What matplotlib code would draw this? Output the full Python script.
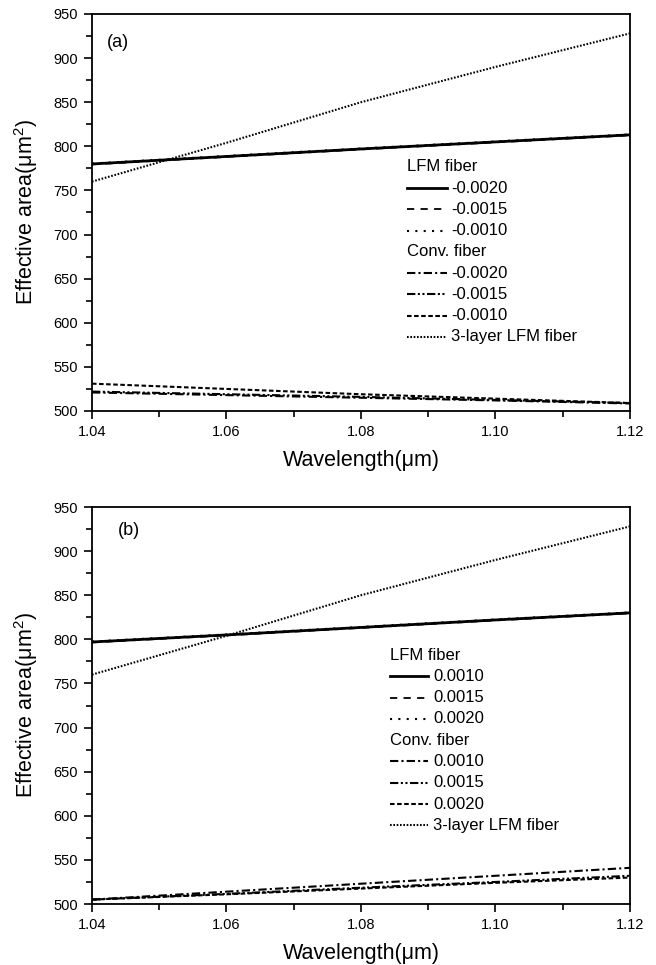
import matplotlib
matplotlib.use("Agg")
import matplotlib.pyplot as plt
from matplotlib.ticker import MultipleLocator

plt.rcParams['font.family'] = ['Liberation Sans', 'DejaVu Sans']
plt.rcParams['mathtext.fontset'] = 'custom'
plt.rcParams['mathtext.rm'] = 'Liberation Sans'

wavelength = [1.04, 1.06, 1.08, 1.10, 1.12]

# panel (a): negative index differences
lfm_a_0020 = [780, 788.5, 797, 805, 813]
lfm_a_0015 = [779.5, 788, 796.5, 804.5, 812.5]
lfm_a_0010 = [780.5, 789, 797.5, 805.5, 813.5]
conv_a_0020 = [521, 518, 515, 512, 508.5]
conv_a_0015 = [522, 519, 516, 512.5, 509]
conv_a_0010 = [531, 525, 519, 514, 509]
three_layer_a = [760, 804, 850, 890, 928]

# panel (b): positive index differences
lfm_b_0010 = [797, 805, 813.5, 822, 830]
lfm_b_0015 = [796.5, 804.5, 813, 821.5, 829.5]
lfm_b_0020 = [797.5, 805.5, 814, 822.5, 830.5]
conv_b_0010 = [505, 514, 523, 532, 541]
conv_b_0015 = [505, 511.5, 518.5, 525, 532]
conv_b_0020 = [505, 511, 517.5, 524, 530]
three_layer_b = [760, 804, 850, 890, 928]

labels_a = ['-0.0020', '-0.0015', '-0.0010']
labels_b = ['0.0010', '0.0015', '0.0020']

styles_lfm = [dict(ls='-', lw=2.0),
              dict(ls=(0, (4, 3.5)), lw=1.3),
              dict(ls=(0, (1, 3)), lw=1.5)]
styles_conv = [dict(ls=(0, (4, 1.5, 1, 1.5)), lw=1.5),
               dict(ls=(0, (4, 1.2, 1, 1.2, 1, 1.2)), lw=1.5),
               dict(ls=(0, (2.2, 1.2)), lw=1.5)]
style_3 = dict(ls=(0, (0.8, 0.8)), lw=1.5)


def draw_panel(ax, lfm, conv, three, labels, tag, tag_xy, leg):
    for y, st in zip(lfm, styles_lfm):
        ax.plot(wavelength, y, color='black', **st)
    for y, st in zip(conv, styles_conv):
        ax.plot(wavelength, y, color='black', **st)
    ax.plot(wavelength, three, color='black', **style_3)

    ax.set_xlim(1.04, 1.12)
    ax.set_ylim(500, 950)
    ax.xaxis.set_major_locator(MultipleLocator(0.02))
    ax.xaxis.set_minor_locator(MultipleLocator(0.01))
    ax.yaxis.set_major_locator(MultipleLocator(50))
    ax.yaxis.set_minor_locator(MultipleLocator(25))
    ax.xaxis.set_major_formatter(plt.FormatStrFormatter('%.2f'))
    ax.tick_params(which='major', direction='out', length=6, width=1.2,
                   labelsize=10.5, pad=4)
    ax.tick_params(which='minor', direction='out', length=4, width=1.2)
    for s in ax.spines.values():
        s.set_linewidth(1.3)
    ax.set_xlabel('Wavelength(μm)', fontsize=15.5, labelpad=8)
    ax.set_ylabel('Effective area(μm$^2$)', fontsize=15.5, labelpad=10)
    ax.text(tag_xy[0], tag_xy[1], tag, transform=ax.transAxes, fontsize=13,
            va='center', ha='left')

    # hand-built legend with section headings
    x0, x1, xt, ytop, step = leg
    tr = ax.transAxes
    rows = [('LFM fiber', None)] + list(zip(labels, styles_lfm)) + \
           [('Conv. fiber', None)] + list(zip(labels, styles_conv)) + \
           [('3-layer LFM fiber', style_3)]
    for i, (txt, st) in enumerate(rows):
        y = ytop - i * step
        if st is None:
            ax.text(x0, y, txt, transform=tr, fontsize=12, va='center', ha='left')
        else:
            ax.plot([x0, x1], [y, y], transform=tr, color='black', **st)
            ax.text(xt, y, txt, transform=tr, fontsize=12, va='center', ha='left')


fig = plt.figure(figsize=(6.56, 9.65), dpi=100)
ax_a = fig.add_axes([0.1402, 0.5741, 0.8201, 0.4114])
ax_b = fig.add_axes([0.1402, 0.0632, 0.8201, 0.4114])

draw_panel(ax_a, [lfm_a_0020, lfm_a_0015, lfm_a_0010],
           [conv_a_0020, conv_a_0015, conv_a_0010], three_layer_a,
           labels_a, '(a)', (0.028, 0.927), (0.5855, 0.660, 0.667, 0.6146, 0.0535))
draw_panel(ax_b, [lfm_b_0010, lfm_b_0015, lfm_b_0020],
           [conv_b_0010, conv_b_0015, conv_b_0020], three_layer_b,
           labels_b, '(b)', (0.048, 0.942), (0.554, 0.6245, 0.634, 0.627, 0.0536))

fig.savefig('out.png', dpi=100)
